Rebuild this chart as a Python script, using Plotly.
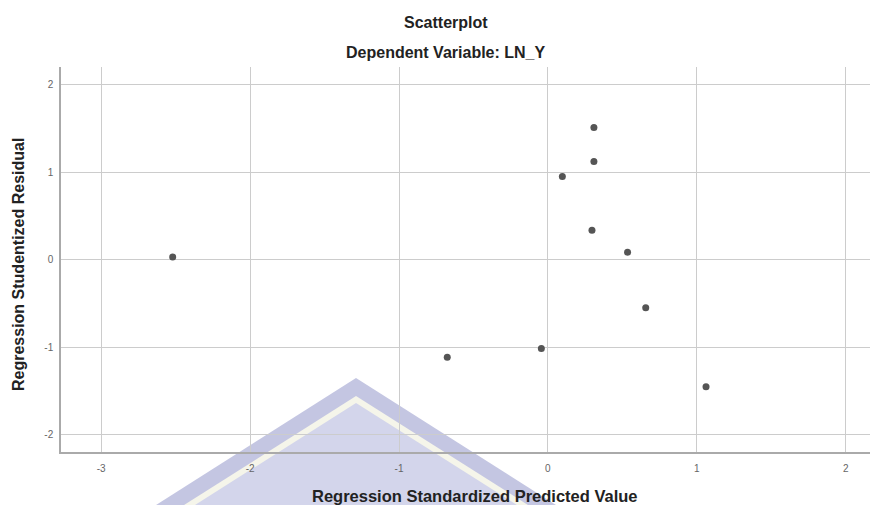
import plotly.graph_objects as go

# Data
pred_std = [-2.52, -0.676, -0.044, 0.097, 0.296, 0.309, 0.309, 0.535, 0.657, 1.062]
resid_stud = [0.03, -1.117, -1.017, 0.95, 0.335, 1.12, 1.51, 0.083, -0.55, -1.455]
x_ticks = [-3, -2, -1, 0, 1, 2]
x_tick_labels = ["-3", "-2", "-1", "0", "1", "2"]
y_ticks = [-2, -1, 0, 1, 2]
y_tick_labels = ["-2", "-1", "0", "1", "2"]

OFF = 8  # default body margin of the html page
W, H = 878 - OFF, 505 - OFF
L, R, T = 61 - OFF, 0, 67 - OFF
B = H - (452 - OFF)
PW, PH = W - L - R, H - T - B


def px(xp, yp):
    """page pixel -> paper coords"""
    xf, yf = xp - OFF, yp - OFF
    return (xf - L) / PW, (H - B - yf) / PH


def path(points):
    pts = [px(a, b) for a, b in points]
    return "M " + " L ".join(f"{a:.4f},{b:.4f}" for a, b in pts) + " Z"


fig = go.Figure()
fig.add_trace(go.Scatter(
    x=pred_std, y=resid_stud, mode="markers",
    marker=dict(color="#555555", size=7), showlegend=False,
    hoverinfo="x+y"))

# watermark chevron (background decoration)
shapes = [
    dict(type="path", xref="paper", yref="paper", layer="below",
         path=path([(356, 378), (556, 505), (156, 505)]),
         fillcolor="#c4c6e2", line=dict(width=0)),
    dict(type="path", xref="paper", yref="paper", layer="below",
         path=path([(356, 396), (528, 505), (184, 505)]),
         fillcolor="#f5f5ea", line=dict(width=0)),
    dict(type="path", xref="paper", yref="paper", layer="below",
         path=path([(356, 403), (517, 505), (195, 505)]),
         fillcolor="#d3d5eb", line=dict(width=0)),
]

font = "Arial, Liberation Sans, sans-serif"


def label(text, xp, yp, size, angle=0):
    ax, ay = px(xp, yp)
    return dict(text=f"<b>{text}</b>", x=ax, y=ay, xref="paper", yref="paper",
                xanchor="center", yanchor="middle", textangle=angle,
                showarrow=False, font=dict(size=size, color="#222222", family=font))


ann = [
    label("Scatterplot", 446, 22, 16),
    label("Dependent Variable: LN_Y", 445, 52, 16),
    label("Regression Standardized Predicted Value", 475, 496, 16.5),
    label("Regression Studentized Residual", 18, 265, 16, -90),
]

x0 = -3.27
x1 = x0 + PW / 148.9
fig.update_layout(
    width=W, height=H,
    margin=dict(l=L, r=R, t=T, b=B, pad=0),
    paper_bgcolor="white", plot_bgcolor="rgba(0,0,0,0)",
    shapes=shapes, annotations=ann,
    font=dict(family=font),
    xaxis=dict(range=[x0, x1], tickvals=x_ticks, ticktext=x_tick_labels,
               showgrid=True, gridcolor="#cccccc",
               gridwidth=1, zeroline=False, showline=True, linecolor="#aaaaaa",
               linewidth=1.5, ticks="outside", ticklen=6, tickcolor="rgba(0,0,0,0)",
               tickfont=dict(size=10, color="#666666")),
    yaxis=dict(range=[-2.2, 2.2], tickvals=y_ticks, ticktext=y_tick_labels,
               showgrid=True, gridcolor="#cccccc",
               gridwidth=1, zeroline=False, showline=True, linecolor="#aaaaaa",
               linewidth=1.5, ticks="outside", ticklen=4, tickcolor="rgba(0,0,0,0)",
               tickfont=dict(size=10, color="#666666")),
)

fig.write_html("out.html")
